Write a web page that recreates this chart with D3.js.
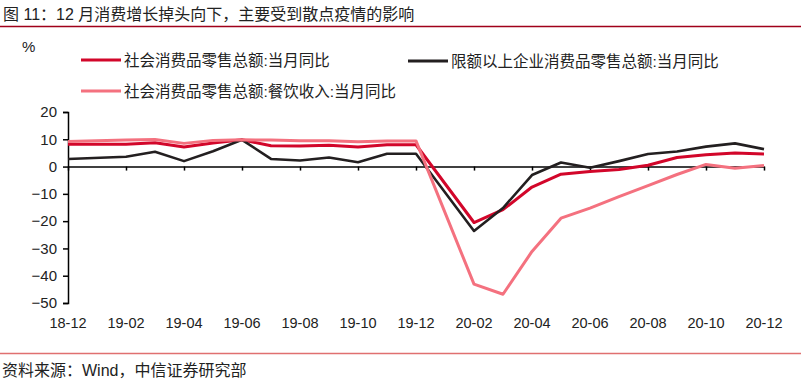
<!DOCTYPE html>
<html>
<head>
<meta charset="utf-8">
<script src="https://cdn.jsdelivr.net/npm/d3@7"></script>
<style>
  body { margin: 0; background: #fff; }
  svg text { font-family: "Liberation Sans", Arial, "Noto Sans CJK SC", sans-serif; fill: #222; }
</style>
</head>
<body>
<div id="chart"></div>
<script>
// months, Jan has no separate value (Jan-Feb combined)
var months = ["18-12", "19-01", "19-02", "19-03", "19-04", "19-05", "19-06", "19-07", "19-08", "19-09", "19-10", "19-11", "19-12",
              "20-01", "20-02", "20-03", "20-04", "20-05", "20-06", "20-07", "20-08", "20-09", "20-10", "20-11", "20-12"];
var tickLabels = ["18-12", "19-02", "19-04", "19-06", "19-08", "19-10", "19-12", "20-02", "20-04", "20-06", "20-08", "20-10", "20-12"];
var yTicks = [20, 10, 0, -10, -20, -30, -40, -50];

var retail = [8.2, null, 8.2, 8.7, 7.2, 8.6, 9.8, 7.6, 7.5, 7.8, 7.2, 8.0, 8.0,
              null, -20.5, -15.8, -7.5, -2.8, -1.8, -1.1, 0.5, 3.3, 4.3, 5.0, 4.6];
var aboveQuota = [2.8, null, 3.6, 5.4, 2.0, 5.6, 9.8, 2.8, 2.2, 3.3, 1.6, 4.7, 4.7,
                  null, -23.6, -15.2, -3.1, 1.5, -0.4, 2.0, 4.6, 5.5, 7.3, 8.5, 6.4];
var catering = [9.2, null, 9.7, 9.9, 8.5, 9.6, 9.8, 9.7, 9.5, 9.5, 9.1, 9.4, 9.4,
                null, -43.1, -46.8, -31.1, -18.9, -15.2, -11.0, -7.0, -2.9, 0.8, -0.6, 0.4];

var W = 801, H = 385;
var svg = d3.select("#chart").append("svg")
    .attr("width", W)
    .attr("height", H);

// title and rules
svg.append("text")
    .attr("x", 3)
    .attr("y", 20)
    .style("font-size", "16px")
    .text("图 11：12 月消费增长掉头向下，主要受到散点疫情的影响");
svg.append("line")
    .attr("x1", 0).attr("x2", W)
    .attr("y1", 26.5).attr("y2", 26.5)
    .attr("stroke", "#a0001a")
    .attr("stroke-width", 1.5);
svg.append("line")
    .attr("x1", 0).attr("x2", W)
    .attr("y1", 353.5).attr("y2", 353.5)
    .attr("stroke", "#e07070")
    .attr("stroke-width", 1.5);
svg.append("text")
    .attr("x", 2)
    .attr("y", 376)
    .style("font-size", "16px")
    .text("资料来源：Wind，中信证券研究部");

// scales
var x = d3.scalePoint()
    .domain(months)
    .range([68, 764]);
var y = d3.scaleLinear()
    .domain([-50, 20])
    .range([303, 112]);

// y axis
var yAxis = svg.append("g")
    .attr("transform", "translate(68,0)")
    .call(d3.axisLeft(y).tickValues(yTicks).tickSize(5).tickPadding(6));
yAxis.select(".domain").attr("stroke", "#000").attr("stroke-width", 1.5);
yAxis.selectAll(".tick line").attr("stroke", "#000").attr("stroke-width", 1.5);
yAxis.selectAll(".tick text")
    .style("font-size", "15px")
    .attr("fill", "#222");

// x axis along zero, labels at bottom
var xAxis = svg.append("g")
    .attr("transform", "translate(0," + y(0) + ")")
    .call(d3.axisBottom(x).tickValues(tickLabels).tickSize(4).tickSizeOuter(0).tickFormat(""));
xAxis.select(".domain").attr("stroke", "#000").attr("stroke-width", 1.5);
xAxis.selectAll(".tick line").attr("stroke", "#000").attr("stroke-width", 1.5);

svg.append("g")
    .selectAll("text")
    .data(tickLabels)
    .enter()
    .append("text")
    .attr("x", function (d) { return x(d); })
    .attr("y", 328)
    .attr("text-anchor", "middle")
    .style("font-size", "14.5px")
    .text(function (d) { return d; });

svg.append("text")
    .attr("x", 22)
    .attr("y", 52)
    .style("font-size", "15px")
    .text("%");

// lines
var line = d3.line()
    .x(function (d) { return x(d.m); })
    .y(function (d) { return y(d.v); });

function pts(vals) {
    return months.map(function (m, i) { return {m: m, v: vals[i]}; })
        .filter(function (d) { return d.v != null; });
}

var series = [
    {name: "社会消费品零售总额:当月同比", vals: retail, color: "#d2062a", w: 3, lx: 81, ly: 60},
    {name: "限额以上企业消费品零售总额:当月同比", vals: aboveQuota, color: "#231f20", w: 2.6, lx: 408, ly: 61},
    {name: "社会消费品零售总额:餐饮收入:当月同比", vals: catering, color: "#f4717f", w: 3, lx: 81, ly: 91}
];

series.forEach(function (s) {
    svg.append("path")
        .datum(pts(s.vals))
        .attr("d", line)
        .attr("fill", "none")
        .attr("stroke", s.color)
        .attr("stroke-width", s.w)
        .attr("stroke-linejoin", "round");

    svg.append("line")
        .attr("x1", s.lx).attr("x2", s.lx + 40)
        .attr("y1", s.ly).attr("y2", s.ly)
        .attr("stroke", s.color)
        .attr("stroke-width", 3);
    svg.append("text")
        .attr("x", s.lx + 43)
        .attr("y", s.ly + 5.5)
        .style("font-size", "15.5px")
        .text(s.name);
});
</script>
</body>
</html>
